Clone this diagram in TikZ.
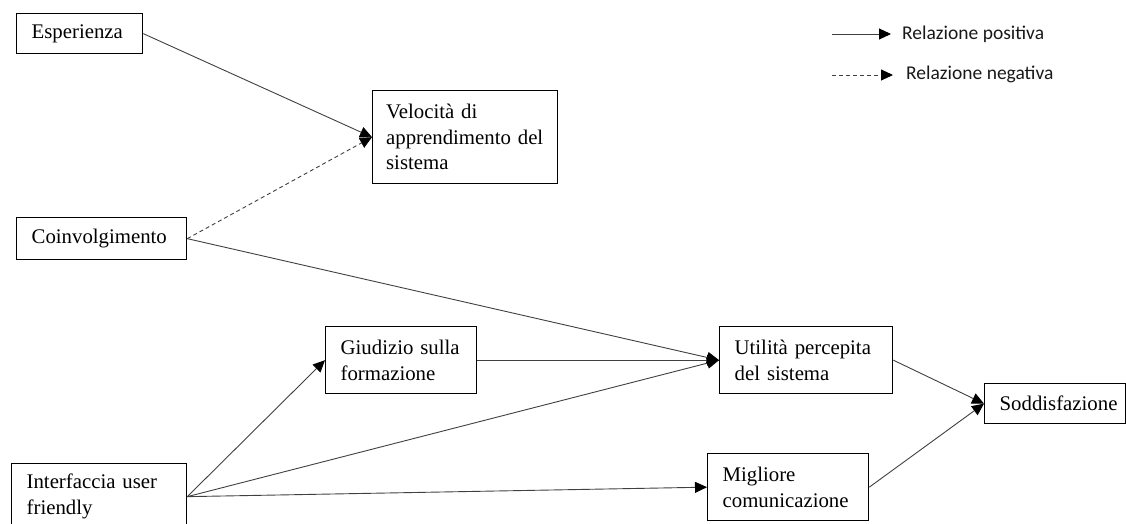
\documentclass[tikz,border=0pt]{standalone}
\usepackage{fontspec}
\setmainfont{Liberation Serif}
\newfontfamily\legendfont{Carlito}
\usetikzlibrary{arrows.meta}
\begin{document}
\begin{tikzpicture}[x=1pt,y=-1pt,
  box/.style={draw=black, line width=1.3pt, anchor=north west, align=left,
    inner xsep=15pt, inner ysep=0pt,
    font=\fontsize{20.8}{25.5}\selectfont, text=black},
  link/.style={draw=black!75, line width=0.9pt,
    -{Triangle[length=12pt,width=11pt,color=black]}},
  neglink/.style={link, dash pattern=on 4pt off 3pt},
  legendtext/.style={anchor=west, inner sep=0pt, text=black!90,
    font=\legendfont\fontsize{19.5}{22}\selectfont}]
\useasboundingbox (0,0) rectangle (1126,524);

% constructs of the model
\node[box, text width=96pt,  minimum height=40pt] (esp) at (16,13) {Esperienza};
\node[box, inner xsep=13.5pt, text width=158pt, minimum height=93pt] (vel) at (372,90)
  {\mbox{Velocità di}\\\mbox{apprendimento del}\\\mbox{sistema}};
\node[box, text width=140pt, minimum height=42pt] (coi) at (16,217) {Coinvolgimento};
\node[box, text width=121pt, minimum height=67pt] (giu) at (325,326)
  {Giudizio sulla\\formazione};
\node[box, text width=145pt, minimum height=66pt] (int) at (11,463)
  {Interfaccia user\\friendly};
\node[box, text width=143pt, minimum height=67pt] (uti) at (719,326)
  {Utilità percepita\\del sistema};
\node[box, text width=131pt, minimum height=67pt] (mig) at (707,453)
  {Migliore\\comunicazione};
\node[box, text width=111pt, minimum height=40pt] (sod) at (984,383)
  {Soddisfazione};

% relations
\draw[link]    (esp.east) -- (vel.west);
\draw[neglink] (coi.east) -- (vel.west);
\draw[link]    (coi.east) -- (uti.west);
\draw[link]    (giu.east) -- (uti.west);
\draw[link]    (int.east) -- (giu.west);
\draw[link]    (int.east) -- (uti.west);
\draw[link]    (int.east) -- (mig.west);
\draw[link]    (uti.east) -- (sod.west);
\draw[link]    (mig.east) -- (sod.west);

% legend
\coordinate (lpa) at (832,34);
\coordinate (lpb) at (891,34);
\coordinate (lna) at (832,75);
\coordinate (lnb) at (893,75);
\draw[link]    (lpa) -- (lpb);
\draw[neglink] (lna) -- (lnb);
\node[legendtext] (lpt) at (902,34) {Relazione positiva};
\node[legendtext] (lnt) at (906,74) {Relazione negativa};
\end{tikzpicture}
\end{document}
